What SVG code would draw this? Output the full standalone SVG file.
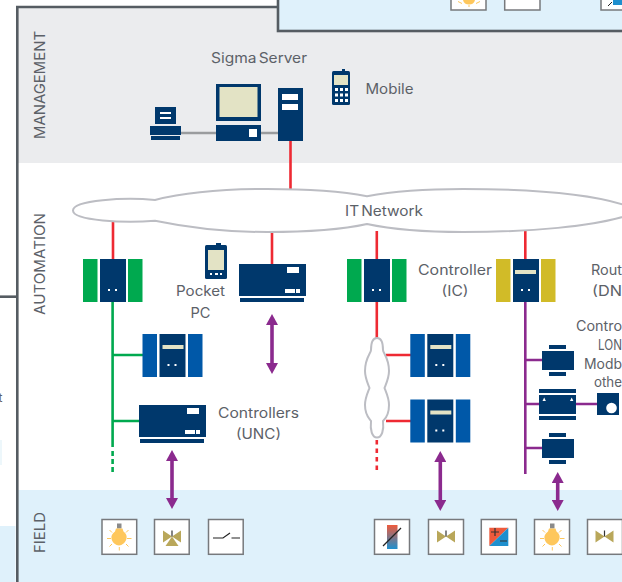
<svg xmlns="http://www.w3.org/2000/svg" xmlns:xlink="http://www.w3.org/1999/xlink" width="622" height="582" viewBox="0 0 622 582">
<style>
text{font-family:"Inter","Noto Sans","Liberation Sans",sans-serif;font-size:14px;fill:#5c6168}
.m{text-anchor:middle}
.v{font-size:15px}
.ws{word-spacing:-2px}
.navy{fill:#00386c}
.w{fill:#fff}
.cream{fill:#e3e3c5}
.frame{fill:none;stroke:#555c62;stroke-width:2.6}
.box{fill:#fff;stroke:#77797c;stroke-width:1.5}
.red{fill:none;stroke:#ee2a33;stroke-width:2.6}
.grn{fill:none;stroke:#00a94f;stroke-width:2.6}
.pur{fill:none;stroke:#8b2a8e;stroke-width:2.6}
.arr{fill:none;stroke:#8b2a8e;stroke-width:3.6;marker-start:url(#ah);marker-end:url(#ah)}
.gry{fill:none;stroke:#9a9c9e;stroke-width:2.4}
.cloud{fill:#fff;stroke:#bcbdc3;stroke-width:2}
.ray{stroke:#fec75c;stroke-width:1;fill:none}
</style>
<defs>
<marker id="ah" viewBox="0 -6 11 12" refX="1" refY="0" markerWidth="11" markerHeight="12" markerUnits="userSpaceOnUse" orient="auto-start-reverse"><path d="M0,-6L11,0L0,6z" fill="#8b2a8e"/></marker>
<linearGradient id="th" x1="0" y1="0" x2="0" y2="1"><stop offset="0" stop-color="#ee5a3c"/><stop offset="1" stop-color="#1e8fce"/></linearGradient>
<g id="core"><rect x="17" width="26" height="43" class="navy"/><rect x="25" y="30" width="2" height="2" class="w"/><rect x="32" y="30" width="2" height="2" class="w"/></g>
<g id="ctlG"><rect x="0" width="14.5" height="43" fill="#00a94f"/><rect x="45" width="14.5" height="43" fill="#00a94f"/><use href="#core"/></g>
<g id="ctlB"><rect x="0" width="14.5" height="43" fill="#0058a8"/><rect x="45.5" width="14.5" height="43" fill="#0058a8"/><use href="#core"/><rect x="20" y="11" width="21" height="4" class="cream"/></g>
<g id="ctlY"><rect x="0" width="14.5" height="43" fill="#d1bb28"/><rect x="45" width="14.5" height="43" fill="#d1bb28"/><use href="#core"/><rect x="19" y="11" width="21" height="4" class="cream"/></g>
<g id="unc"><rect width="67" height="32" class="navy"/><rect x="1" y="34" width="64" height="4" class="navy"/><rect x="48" y="3" width="12" height="6" class="w"/><rect x="46" y="25" width="10" height="4" class="w"/><rect x="57" y="25" width="4" height="4" class="w"/></g>
<g id="dev"><rect x="7" y="0" width="17" height="4" class="navy"/><rect y="6" width="32" height="19" class="navy"/><rect x="7" y="27" width="17" height="4" class="navy"/></g>
<g id="bulb"><rect x="16" y="4" width="4.500" height="5" fill="#8a8a8a"/><path d="M15,9h6.500l1,3c3,2 3.500,5 3,7c-.8,4-4.500,7-7.500,7s-7-3-7.500-7c-.5-2 .5-5 3.500-7z" fill="#fec75c"/><path class="ray" d="M6,19H10M26,19H30.500M8.500,10.500L11,13M27.500,10.500L25,13M8.500,27L11,24.500M27.500,27L25,24.500M18.300,27.500V31"/></g>
<g id="valve2"><path d="M9,11L18,17L9,23zM27,11L18,17L27,23z" fill="#b9a75a"/><path d="M18,11V17" stroke="#333" stroke-width="1.200"/></g>
</defs>

<rect width="622" height="582" fill="#fff"/>
<rect x="0" y="526" width="15.500" height="56" fill="#dff1fb"/>
<rect x="0" y="440" width="2" height="25" fill="#edf7fb"/>
<text x="-1.500" y="402" font-size="12" style="font-size:12px">t</text>
<path d="M0,296.700H16" class="frame"/>

<g id="band-management"><rect x="17" y="7" width="605" height="156" fill="#ebecee"/></g>
<g id="band-field"><rect x="17" y="490" width="605" height="92" fill="#dff1fb"/></g>
<g id="frame">
<path d="M17.300,582V7H278" class="frame"/>
<rect x="278" y="-10" width="360" height="41" fill="#dff1fb" stroke="#555c62" stroke-width="2.600"/>
</g>
<g id="top-boxes">
<rect x="451" y="-10" width="35" height="20" class="box"/>
<path d="M458,1.500L462,3.500M480,1.500L476,3.500M469,5V7" class="ray"/><path d="M463,0h12c-.5,3-3,4.500-6,4.500s-5.500-1.500-6-4.500z" fill="#fec75c"/>
<rect x="504.700" y="-10" width="35.300" height="20" class="box"/>
<rect x="601" y="-10" width="30" height="20" class="box"/>
<rect x="613" y="0" width="9" height="5" fill="#1e8fce"/><path d="M608,6L612,2" stroke="#222" stroke-width="1"/>
</g>

<text class="v" transform="translate(45,139) rotate(-90)" textLength="108" lengthAdjust="spacingAndGlyphs">MANAGEMENT</text>
<text class="v" transform="translate(45,315) rotate(-90)" textLength="102" lengthAdjust="spacingAndGlyphs">AUTOMATION</text>
<text class="v" transform="translate(45,553) rotate(-90)" textLength="41" lengthAdjust="spacingAndGlyphs">FIELD</text>

<g id="connectors">
<path class="gry" d="M181,133H216M261,133H278"/>
<path class="red" d="M290.500,141V190M113,222V259M272,231V264M376.800,231V259M376.800,302V339M525.300,231V259M386,355H411M386,421H411"/>
<path class="red" d="M376.800,440V472" stroke-dasharray="4.500 4"/>
<path class="grn" d="M112.600,302V447M113,355H143M113,421H139"/>
<path class="grn" d="M112.600,451V474" stroke-dasharray="5 3"/>
<path class="pur" d="M525.300,302V474M525,360H542M525,404H539M525,448H542M576,404H597"/>
<path class="arr" d="M272,324V364"/>
<path class="arr" d="M172,460V499"/>
<path class="arr" d="M440.300,461V501"/>
<path class="arr" d="M557.700,482V501"/>
</g>

<g id="printer"><rect x="155" y="107" width="21" height="17" class="navy"/><rect x="160" y="112" width="11" height="2" class="w"/><rect x="160" y="117" width="11" height="2" class="w"/><rect x="150" y="126" width="31" height="9" class="navy"/><rect x="151" y="136" width="29" height="4" class="navy"/></g>
<g id="workstation"><rect x="216" y="84" width="45" height="37" class="navy"/><rect x="219.500" y="87" width="38" height="30" class="cream"/><rect x="216" y="125" width="45" height="16" class="navy"/><rect x="249" y="129" width="8" height="8" class="w"/></g>
<g id="server"><rect x="278" y="88" width="25" height="53" class="navy"/><rect x="282" y="94" width="16" height="6" class="w"/><rect x="282" y="104" width="16" height="6" class="w"/><text x="259" y="63" class="m ws" textLength="96" lengthAdjust="spacingAndGlyphs">Sigma Server</text></g>
<g id="mobile"><rect x="342" y="69" width="3" height="3" class="navy"/><rect x="332" y="71" width="18" height="34" rx="1.500" class="navy"/><rect x="334" y="75" width="14" height="10" class="cream"/>
<path class="w" d="M335,88h3v3h-3zM340,88h3v3h-3zM345,88h3v3h-3zM335,93.500h3v3h-3zM340,93.500h3v3h-3zM345,93.500h3v3h-3zM335,99h3v3h-3zM340,99h3v3h-3zM345,99h3v3h-3z"/>
<text x="365.500" y="94" textLength="48" lengthAdjust="spacingAndGlyphs">Mobile</text></g>

<g id="it-network"><path class="cloud" d="M155,200C125,197 73,200 73,210.500C73,221 125,223 155,220.700C190,228 230,232 267,232C305,232 340,230 367,224C395,230 430,232 463,232C520,232 600,228 640,211C600,192 520,189 463,189C430,189 395,191 367,196.300C340,191 305,189 267,189C230,189 190,191 155,200Z"/><text x="384" y="216" class="m ws" textLength="78" lengthAdjust="spacingAndGlyphs">IT Network</text></g>

<g id="ic-left"><use href="#ctlG" x="83" y="259"/></g>
<g id="pocket-pc"><rect x="216" y="243" width="5" height="3" class="navy"/><rect x="205" y="245" width="22" height="34" rx="1.500" class="navy"/><rect x="208" y="250" width="16" height="20" class="cream"/><path class="w" d="M210,273h2v2h-2zM215,273h3v2h-3zM220,273h2v2h-2z"/><text x="200.500" y="296" class="m" textLength="49" lengthAdjust="spacingAndGlyphs">Pocket</text><text x="200.500" y="318" class="m" textLength="20" lengthAdjust="spacingAndGlyphs">PC</text></g>
<g id="unc-top"><use href="#unc" x="239" y="264"/></g>
<g id="b1"><use href="#ctlB" x="142.500" y="334"/></g>
<g id="unc-bottom"><use href="#unc" x="139" y="405"/><text x="258.500" y="418" class="m" textLength="81" lengthAdjust="spacingAndGlyphs">Controllers</text><text x="258.500" y="439" class="m" textLength="45" lengthAdjust="spacingAndGlyphs">(UNC)</text></g>
<g id="ic-mid"><use href="#ctlG" x="347" y="259"/><text x="455" y="275" class="m" textLength="74" lengthAdjust="spacingAndGlyphs">Controller</text><text x="455" y="296" class="m" textLength="27" lengthAdjust="spacingAndGlyphs">(IC)</text></g>
<g id="router"><use href="#ctlY" x="496" y="259"/><text x="591" y="275" textLength="31" lengthAdjust="spacingAndGlyphs">Rout</text><text x="592" y="296" textLength="30" lengthAdjust="spacingAndGlyphs">(DN</text></g>
<g id="b2"><use href="#ctlB" x="410.300" y="334"/></g>
<g id="b3"><use href="#ctlB" x="410.300" y="399.500"/></g>
<g id="bus-cloud"><path class="cloud" d="M377,338C372,338 371,343 371,350C371,353 365,358 365,371C365,378 368,384 369.500,388C368,392 365,398 365,405C365,416 370,419 371,421C370,430 372,437.500 377,437.500C382,437.500 384,430 383,421C385,419 389,416 389,405C389,398 386,392 384.500,388C386,384 389,378 389,371C389,358 383,353 383,350C383,343 382,338 377,338Z"/></g>
<g id="dev1"><use href="#dev" x="542" y="345"/></g>
<g id="dev2"><rect x="539" y="389" width="37" height="4" class="navy"/><rect x="539" y="395" width="37" height="19" class="navy"/><rect x="539" y="416" width="37" height="4" class="navy"/><path class="w" d="M542.500,401l1.700-3.500l1.700,3.500zM570,401l1.700-3.500l1.700,3.500z"/></g>
<g id="dev3"><use href="#dev" x="542" y="433"/></g>
<g id="dev4"><rect x="597" y="393" width="22" height="22" class="navy"/><circle cx="611.500" cy="408" r="5.300" class="w"/></g>
<g id="others-label"><text x="576" y="331" textLength="46" lengthAdjust="spacingAndGlyphs">Contro</text><text x="598" y="350" textLength="24" lengthAdjust="spacingAndGlyphs">LON</text><text x="584" y="369" textLength="38" lengthAdjust="spacingAndGlyphs">Modb</text><text x="594" y="387" textLength="28" lengthAdjust="spacingAndGlyphs">othe</text></g>

<g id="field-bulb1"><rect x="102" y="519.500" width="34.700" height="34.800" class="box"/><use href="#bulb" x="101" y="519.500"/></g>
<g id="field-valve3"><rect x="154.500" y="519.500" width="34.700" height="34.800" class="box"/><use href="#valve2" x="154" y="519.500"/><path d="M172,536.500l-6.500,9.500h13z" fill="#b9a75a"/></g>
<g id="field-switch"><rect x="208.500" y="519.500" width="34.700" height="34.800" class="box"/><path d="M213,538H223L230,533M231.500,538H240" stroke="#222" stroke-width="1.200" fill="none"/></g>
<g id="field-sensor"><rect x="374.500" y="519.500" width="35" height="34.800" class="box"/><rect x="387" y="525" width="10.500" height="24" fill="url(#th)"/><path d="M383,546L401,528" stroke="#222" stroke-width="1.200"/></g>
<g id="field-valve2a"><rect x="428.500" y="519.500" width="35" height="34.800" class="box"/><use href="#valve2" x="428" y="519.500"/></g>
<g id="field-conv"><rect x="481.300" y="519.500" width="35" height="34.800" class="box"/><path d="M489.300,527.700H508.300L489.300,546z" fill="#ee5a3c"/><path d="M508.300,527.700V546H489.300z" fill="#1e8fce"/><path d="M491,532h8M495,528v8M500,541h7" stroke="#333" stroke-width="1.200" fill="none"/></g>
<g id="field-bulb2"><rect x="534.500" y="519.500" width="35" height="34.800" class="box"/><use href="#bulb" x="534" y="519.500"/></g>
<g id="field-valve2b"><rect x="587.500" y="519.500" width="35" height="34.800" class="box"/><use href="#valve2" x="586.500" y="519.500"/></g>
</svg>
